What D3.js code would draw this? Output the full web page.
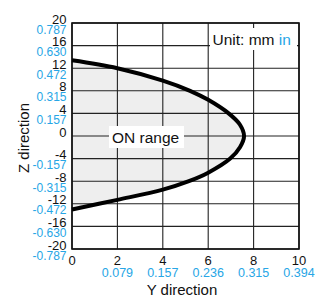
<!DOCTYPE html>
<html>
<head>
<meta charset="utf-8">
<script src="https://d3js.org/d3.v7.min.js"></script>
<style>
  body { margin: 0; background: #fff; }
  text { font-family: "Liberation Sans", Arial, sans-serif; }
</style>
</head>
<body>
<svg id="chart" width="327" height="295"></svg>
<script>
// Y direction (mm) ticks and their inch labels
var xTicks = [0, 2, 4, 6, 8, 10];
var xInch = ["", "0.079", "0.157", "0.236", "0.315", "0.394"];
// Z direction (mm) ticks and inch labels
var zTicks = [20, 16, 12, 8, 4, 0, -4, -8, -12, -16, -20];
var zInch = ["0.787", "0.630", "0.472", "0.315", "0.157", "", "-0.157", "-0.315", "-0.472", "-0.630", "-0.787"];

// ON range boundary (Y mm, Z mm)
var rangeY = [0, 2, 4, 5.2, 6, 6.9, 7.4, 7.58, 7.4, 6.97, 6, 5.15, 4, 2, 0];
var rangeZ = [13.4, 12.0, 9.8, 8, 6.4, 4, 2, 0, -2, -4, -6.5, -8, -9.5, -11.3, -13.0];

var blue = "#27a6e6";
var svg = d3.select("#chart");
var pL = 72, pR = 299, pT = 23, pB = 249;

var x = d3.scaleLinear().domain([0, 10]).range([pL, pR]);
var y = d3.scaleLinear().domain([-20, 20]).range([pB, pT]);

// fill under the range curve
var pts = rangeY.map(function(v, i) { return [v, rangeZ[i]]; });
var line = d3.line()
  .x(function(d) { return x(d[0]); })
  .y(function(d) { return y(d[1]); })
  .curve(d3.curveCatmullRom.alpha(0.5));

svg.append("path")
  .attr("d", line(pts) + "Z")
  .attr("fill", "#eeeeee");

// grid
svg.append("g").selectAll("line").data(xTicks).enter().append("line")
  .attr("x1", function(d) { return x(d); }).attr("x2", function(d) { return x(d); })
  .attr("y1", pT).attr("y2", pB)
  .attr("stroke", "#222").attr("stroke-width", 1.1);
svg.append("g").selectAll("line").data(zTicks).enter().append("line")
  .attr("x1", pL).attr("x2", pR)
  .attr("y1", function(d) { return y(d); }).attr("y2", function(d) { return y(d); })
  .attr("stroke", "#222").attr("stroke-width", 1.1);

svg.append("rect")
  .attr("x", pL).attr("y", pT).attr("width", pR - pL).attr("height", pB - pT)
  .attr("fill", "none").attr("stroke", "#111").attr("stroke-width", 1.6);

// boundary curve
svg.append("path")
  .attr("d", line(pts))
  .attr("fill", "none")
  .attr("stroke", "#000")
  .attr("stroke-width", 4);

// z labels
zTicks.forEach(function(d, i) {
  svg.append("text").attr("x", 66.5).attr("y", y(d) + 0.5)
    .attr("text-anchor", "end").attr("font-size", 13).attr("fill", "#111").text(d);
  if (zInch[i]) {
    svg.append("text").attr("x", 66.5).attr("y", y(d) + 10.5)
      .attr("text-anchor", "end").attr("font-size", 12).attr("fill", blue).text(zInch[i]);
  }
});

// y labels
xTicks.forEach(function(d, i) {
  svg.append("text").attr("x", x(d)).attr("y", 265)
    .attr("text-anchor", "middle").attr("font-size", 13).attr("fill", "#111").text(d);
  if (xInch[i]) {
    svg.append("text").attr("x", x(d)).attr("y", 276.5)
      .attr("text-anchor", "middle").attr("font-size", 12.5).attr("fill", blue).text(xInch[i]);
  }
});

// axis titles
svg.append("text").attr("x", 182).attr("y", 295)
  .attr("text-anchor", "middle").attr("font-size", 15).attr("fill", "#111").text("Y direction");
svg.append("text")
  .attr("transform", "translate(29,138) rotate(-90)")
  .attr("text-anchor", "middle").attr("font-size", 15).attr("fill", "#111").text("Z direction");

// unit box
svg.append("rect").attr("x", 210).attr("y", 28).attr("width", 87).attr("height", 22).attr("fill", "#fff");
var unit = svg.append("text").attr("x", 212.5).attr("y", 44.5).attr("font-size", 15.5).attr("fill", "#111");
unit.append("tspan").text("Unit: mm ");
unit.append("tspan").attr("fill", blue).text("in");

// ON range label
svg.append("rect").attr("x", 109).attr("y", 126).attr("width", 75).attr("height", 22).attr("fill", "#fff");
svg.append("text").attr("x", 112).attr("y", 142.5).attr("font-size", 15.5).attr("fill", "#111").text("ON range");
</script>
</body>
</html>
